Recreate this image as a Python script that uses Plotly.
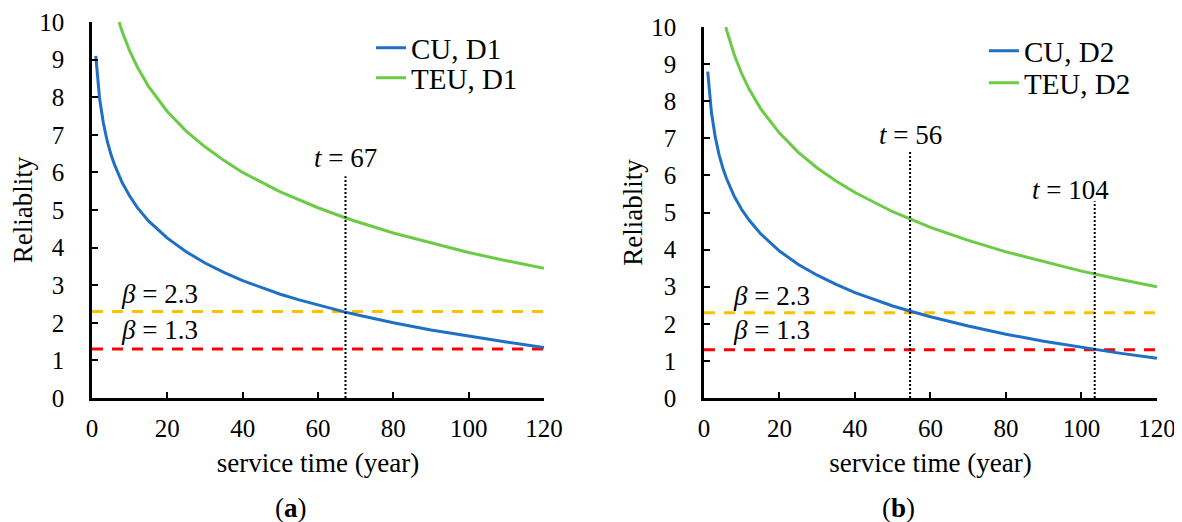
import plotly.graph_objects as go

# ---------------- data ----------------
t_cu_d1 = [1, 2, 3, 4, 5, 6, 8, 10, 12, 15, 20, 25, 30, 35, 40, 45, 50, 55, 60, 67, 70, 80, 90, 100, 110, 120]
r_cu_d1 = [9.10, 7.98, 7.32, 6.85, 6.49, 6.20, 5.73, 5.37, 5.07, 4.71, 4.25, 3.89, 3.59, 3.34, 3.12, 2.93,
           2.76, 2.61, 2.47, 2.29, 2.22, 2.00, 1.81, 1.64, 1.49, 1.34]

t_teu_d1 = [7.2, 8, 10, 12, 15, 20, 25, 30, 35, 40, 50, 60, 67, 70, 80, 90, 100, 110, 120]
r_teu_d1 = [10.0, 9.75, 9.23, 8.81, 8.29, 7.62, 7.10, 6.68, 6.32, 6.00, 5.48, 5.06, 4.80, 4.70, 4.39,
            4.12, 3.87, 3.65, 3.45]

t_cu_d2 = [1, 2, 3, 4, 5, 6, 8, 10, 12, 15, 20, 25, 30, 35, 40, 45, 50, 55, 60, 70, 80, 90, 100, 104, 110, 120]
r_cu_d2 = [8.80, 7.68, 7.03, 6.56, 6.20, 5.91, 5.44, 5.08, 4.79, 4.43, 3.96, 3.60, 3.31, 3.06, 2.84, 2.65,
           2.48, 2.33, 2.19, 1.94, 1.72, 1.53, 1.36, 1.30, 1.21, 1.07]

t_teu_d2 = [5.8, 6, 8, 10, 12, 15, 20, 25, 30, 35, 40, 50, 60, 70, 80, 90, 100, 110, 120]
r_teu_d2 = [10.0, 9.92, 9.26, 8.74, 8.32, 7.80, 7.14, 6.62, 6.20, 5.85, 5.54, 5.02, 4.60, 4.25, 3.94,
            3.67, 3.42, 3.20, 3.00]

beta_span = [0, 120]
beta_high = 2.3
beta_low = 1.3

# vertical markers: (time, top of dotted line, label)
marks_a = [(67.3, 5.9, "67")]
marks_b = [(54.6, 6.65, "56"), (103.5, 5.3, "104")]
mark_label_a = [(67.3, 6.38)]
mark_label_b = [(54.6, 7.1), (97.0, 5.6)]

x_ticks = [0, 20, 40, 60, 80, 100, 120]
y_ticks = [0, 1, 2, 3, 4, 5, 6, 7, 8, 9, 10]

# ---------------- style ----------------
FONT = "Liberation Serif"
BLUE = "#1F6FC5"
GREEN = "#6CCB45"
ORANGE = "#FFC000"
RED = "#FF0000"

fig = go.Figure()


def add_panel(xa, ya, legs, t_cu, r_cu, t_teu, r_teu, cu_name, teu_name, marks):
    # threshold lines
    fig.add_trace(go.Scatter(x=beta_span, y=[beta_high, beta_high], mode="lines", xaxis=xa, yaxis=ya,
                             line=dict(color=ORANGE, width=3, dash="11px,9px"), showlegend=False,
                             hoverinfo="skip"))
    fig.add_trace(go.Scatter(x=beta_span, y=[beta_low, beta_low], mode="lines", xaxis=xa, yaxis=ya,
                             line=dict(color=RED, width=3, dash="11px,9px"), showlegend=False,
                             hoverinfo="skip"))
    fig.add_trace(go.Scatter(x=t_cu, y=r_cu, mode="lines", name=cu_name, xaxis=xa, yaxis=ya, legend=legs[0],
                             line=dict(color=BLUE, width=3)))
    fig.add_trace(go.Scatter(x=t_teu, y=r_teu, mode="lines", name=teu_name, xaxis=xa, yaxis=ya,
                             legend=legs[1], line=dict(color=GREEN, width=3)))
    for tm, top, _ in marks:
        fig.add_trace(go.Scatter(x=[tm, tm], y=[0, top], mode="lines", xaxis=xa, yaxis=ya,
                                 line=dict(color="black", width=2, dash="2px,2px"), showlegend=False,
                                 hoverinfo="skip"))


add_panel("x", "y", ("legend", "legend2"), t_cu_d1, r_cu_d1, t_teu_d1, r_teu_d1, "CU, D1", "TEU, D1", marks_a)
add_panel("x2", "y2", ("legend3", "legend4"), t_cu_d2, r_cu_d2, t_teu_d2, r_teu_d2, "CU, D2", "TEU, D2",
          marks_b)

axis_common = dict(showline=True, linecolor="black", linewidth=2.5, ticks="inside", ticklen=6,
                   tickwidth=2, tickcolor="black", showgrid=False, zeroline=False, automargin=False,
                   ticklabeloverflow="allow",
                   tickfont=dict(family=FONT, size=25, color="black"))

x_common = dict(axis_common, range=[0, 120], tickvals=x_ticks, ticklabelstandoff=6,
                title=dict(text="service time (year)", font=dict(family=FONT, size=27, color="black"),
                           standoff=13))
y_common = dict(axis_common, range=[0, 10], tickvals=y_ticks, ticklabelstandoff=20,
                title=dict(text="Reliablity", font=dict(family=FONT, size=27, color="black"), standoff=1))

annotations = []
tfont = dict(family=FONT, size=27, color="black")
for xr, yr, labels in (("x", "y", [(mark_label_a[0], marks_a[0][2])]),
                       ("x2", "y2", list(zip(mark_label_b, [m[2] for m in marks_b])))):
    for (lx, ly), txt in labels:
        annotations.append(dict(x=lx, y=ly, xref=xr, yref=yr, text="<i>t</i> = " + txt, showarrow=False,
                                font=tfont, xanchor="center", yanchor="middle"))
    annotations.append(dict(x=18, y=2.76, xref=xr, yref=yr, text="<i>β</i> = 2.3", showarrow=False,
                            font=tfont, xanchor="center", yanchor="middle"))
    annotations.append(dict(x=18, y=1.82, xref=xr, yref=yr, text="<i>β</i> = 1.3", showarrow=False,
                            font=tfont, xanchor="center", yanchor="middle"))

annotations.append(dict(x=0.187, y=-0.2926, xref="paper", yref="paper", text="(<b>a</b>)", showarrow=False,
                        font=tfont, xanchor="center", yanchor="middle"))
annotations.append(dict(x=0.757, y=-0.2926, xref="paper", yref="paper", text="(<b>b</b>)", showarrow=False,
                        font=tfont, xanchor="center", yanchor="middle"))

legend_common = dict(font=dict(family=FONT, size=29, color="black"), bgcolor="rgba(0,0,0,0)",
                     xanchor="left", yanchor="middle", itemwidth=30)

# the page body adds an 8px offset, so the figure is 8px smaller and margins shifted accordingly
fig.update_layout(
    width=1174, height=514,
    margin=dict(l=84, r=25, t=14, b=124),
    paper_bgcolor="white", plot_bgcolor="white",
    font=dict(family=FONT, color="black"),
    xaxis=dict(x_common, domain=[0, 0.4244], anchor="y"),
    yaxis=dict(y_common, domain=[0, 1], anchor="x"),
    xaxis2=dict(x_common, domain=[0.5746, 1], anchor="y2"),
    yaxis2=dict(y_common, domain=[0, 0.9867], anchor="x2"),
    legend=dict(legend_common, x=0.262, y=0.931),
    legend2=dict(legend_common, x=0.262, y=0.851),
    legend3=dict(legend_common, x=0.8375, y=0.923),
    legend4=dict(legend_common, x=0.8375, y=0.838),
    annotations=annotations,
    showlegend=True,
)

fig.write_html("out.html")
